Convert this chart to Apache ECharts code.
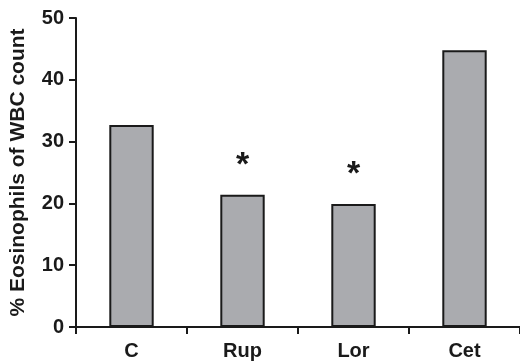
<!DOCTYPE html>
<html>
<head>
<meta charset="utf-8">
<script src="https://cdn.jsdelivr.net/npm/echarts@6/dist/echarts.min.js"></script>
<style>
  html, body { margin: 0; padding: 0; background: #fff; }
  #chart { width: 520px; height: 362px; }
</style>
</head>
<body>
<div id="chart"></div>
<script>
// Eosinophil share of white blood cells per treatment group
const groups = ['C', 'Rup', 'Lor', 'Cet'];
const eosinophilPct = [32.7, 21.4, 19.9, 44.8];
// significance marks shown above the bars ('' = none)
const significance = ['', '*', '*', ''];
const yTicks = { min: 0, max: 50, interval: 10 };
const yTitle = '% Eosinophils of WBC count';

const ink = '#1a1a1a';
const font = 'Liberation Sans, Arial, sans-serif';

const chart = echarts.init(document.getElementById('chart'));
chart.setOption({
  animation: false,
  backgroundColor: '#fff',
  grid: { left: 75, top: 18, width: 447, bottom: 35, containLabel: false },
  xAxis: {
    type: 'category',
    data: groups,
    axisLine: { lineStyle: { color: ink, width: 2 } },
    axisTick: { show: true, inside: false, length: 7, lineStyle: { color: ink, width: 2 } },
    axisLabel: { color: ink, fontFamily: font, fontWeight: 'bold', fontSize: 20, margin: 14 },
    splitLine: { show: false }
  },
  yAxis: {
    type: 'value',
    min: yTicks.min,
    max: yTicks.max,
    interval: yTicks.interval,
    name: yTitle,
    nameLocation: 'middle',
    nameGap: 47,
    nameRotate: 90,
    nameTextStyle: { color: ink, fontFamily: font, fontWeight: 'bold', fontSize: 21 },
    axisLine: { show: true, lineStyle: { color: ink, width: 2 } },
    axisTick: { show: true, inside: false, length: 7, lineStyle: { color: ink, width: 2 } },
    axisLabel: { color: ink, fontFamily: font, fontWeight: 'bold', fontSize: 20, margin: 12 },
    splitLine: { show: false }
  },
  series: [{
    type: 'bar',
    data: eosinophilPct.map((v, i) => ({
      value: v,
      label: {
        show: significance[i] !== '',
        formatter: () => significance[i]
      }
    })),
    barWidth: '40%',
    itemStyle: { color: '#aaabaf', borderColor: ink, borderWidth: 2 },
    label: {
      position: 'top',
      distance: 12,
      color: ink,
      fontFamily: font,
      fontWeight: 'bold',
      fontSize: 34
    }
  }]
});
</script>
</body>
</html>
